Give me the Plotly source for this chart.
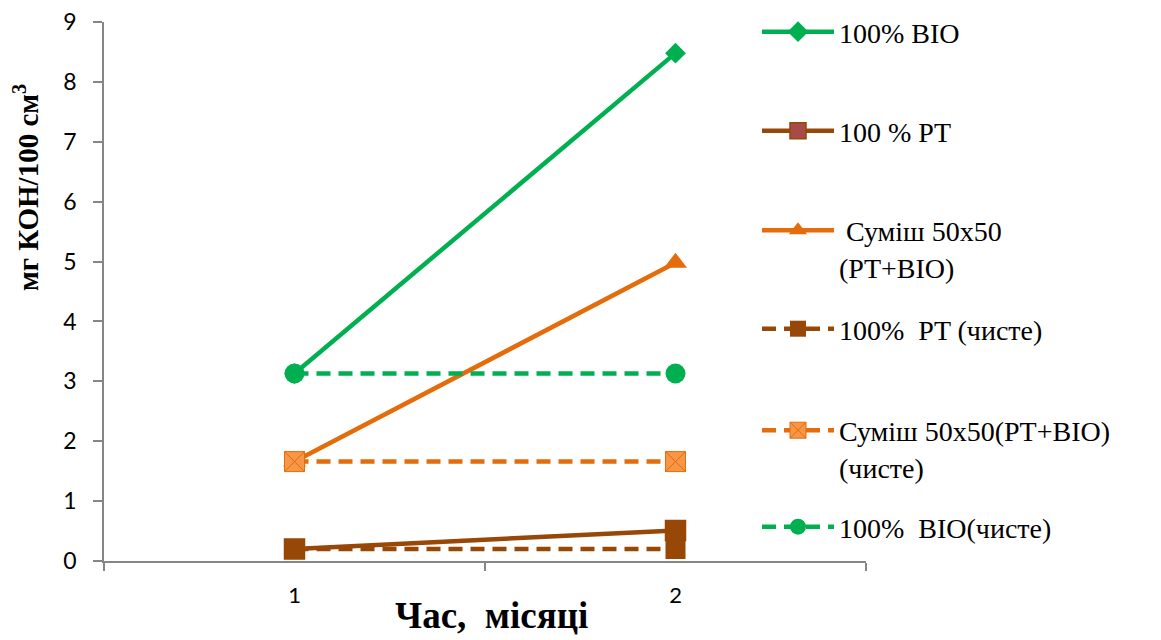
import plotly.graph_objects as go

# Time axis categories (months)
months = ["1", "2"]

# Acid number, mg KOH/100 cm3
bio_100 = [3.13, 8.48]
pt_100 = [0.20, 0.51]
mix_50 = [1.66, 4.98]
pt_100_clean = [0.20, 0.20]
mix_50_clean = [1.66, 1.66]
bio_100_clean = [3.13, 3.13]

names = [
    "100% BIO",
    "100 % PT",
    "\u00a0Суміш 50x50<br>(PT+BIO)",
    "100%\u00a0 PT (чисте)",
    "Суміш 50x50(PT+BIO)<br>(чисте)",
    "100%\u00a0 BIO(чисте)",
]

GREEN = "#00B050"
BROWN = "#974706"
ORANGE = "#E46C0A"
LIGHT_ORANGE = "#F79646"
RED_BROWN = "#A64B47"

serif = "Liberation Serif"
sans = "Lato"

series = [
    dict(y=bio_100, color=GREEN, dash="solid",
         marker=dict(symbol="diamond", size=16, color=GREEN, line=dict(width=0))),
    dict(y=pt_100, color=BROWN, dash="solid",
         marker=dict(symbol="square", size=20, color=[RED_BROWN, BROWN],
                     line=dict(width=1.5, color=BROWN))),
    dict(y=mix_50, color=ORANGE, dash="solid",
         marker=dict(symbol="triangle-up", size=20, color=ORANGE, line=dict(width=0))),
    dict(y=pt_100_clean, color=BROWN, dash="14px,8px",
         marker=dict(symbol="square", size=20, color=BROWN, line=dict(width=0))),
    dict(y=mix_50_clean, color=ORANGE, dash="14px,8px",
         marker=dict(symbol="square-x", size=20, color=LIGHT_ORANGE,
                     line=dict(width=1, color=ORANGE))),
    dict(y=bio_100_clean, color=GREEN, dash="14px,8px",
         marker=dict(symbol="circle", size=20, color=GREEN, line=dict(width=0))),
]

fig = go.Figure()
legend_ids = ["legend", "legend2", "legend3", "legend4", "legend5", "legend6"]
for s, name, lg in zip(series, names, legend_ids):
    fig.add_trace(go.Scatter(
        x=months, y=s["y"], name=name, mode="lines+markers",
        line=dict(color=s["color"], width=4.5, dash=s["dash"]),
        marker=s["marker"], cliponaxis=False, legend=lg,
    ))

# plot area in pixels: x 104..866, y 22..561
L, R, T, B = 104, 295, 22, 79
W, H = 1161, 640
pw, ph = W - L - R, H - T - B


def px_x(p):
    return (p - L) / pw


def px_y(p):
    return (H - B - p) / ph


legend_centers = [32, 131, 248.5, 329, 448.5, 527]
legend_common = dict(
    x=px_x(757), xanchor="left", yanchor="middle",
    font=dict(family=serif, size=28, color="#000000"),
    bgcolor="rgba(0,0,0,0)", borderwidth=0, itemwidth=72, valign="top",
    itemclick=False, itemdoubleclick=False,
)
legend_layout = {}
for lg, yc in zip(legend_ids, legend_centers):
    legend_layout[lg] = dict(legend_common, y=px_y(yc))

fig.update_layout(
    width=W, height=H,
    margin=dict(l=L, r=R, t=T, b=B, pad=0, autoexpand=False),
    paper_bgcolor="white", plot_bgcolor="white",
    font=dict(family=serif, color="#000000"),
    showlegend=True,
    xaxis=dict(
        type="category", range=[-0.5, 1.5],
        showline=True, linecolor="#868686", linewidth=1.5,
        ticks="outside", tickson="boundaries", ticklen=8, tickcolor="#868686",
        tickwidth=1.5, showgrid=False, zeroline=False,
        tickfont=dict(family=sans, size=22, color="#000000"),
        ticklabelstandoff=14,
    ),
    yaxis=dict(
        range=[0, 9], dtick=1, tick0=0,
        showline=True, linecolor="#868686", linewidth=1.5,
        ticks="outside", ticklen=9, tickcolor="#868686", tickwidth=1.5,
        showgrid=False, zeroline=False,
        tickfont=dict(family=sans, size=23, color="#000000"),
        ticklabelstandoff=12,
    ),
    annotations=[
        dict(text="<b>мг КОН/100 см<sup>3</sup></b>", xref="paper", yref="paper",
             x=px_x(26), y=px_y(188), xanchor="center", yanchor="middle",
             textangle=-90, showarrow=False,
             font=dict(family=serif, size=29, color="#000000")),
        dict(text="<b>Час,\u00a0 місяці</b>", xref="paper", yref="paper",
             x=px_x(491), y=px_y(616), xanchor="center", yanchor="middle",
             showarrow=False,
             font=dict(family=serif, size=37, color="#000000")),
    ],
    **legend_layout,
)

fig.write_html("out.html")
